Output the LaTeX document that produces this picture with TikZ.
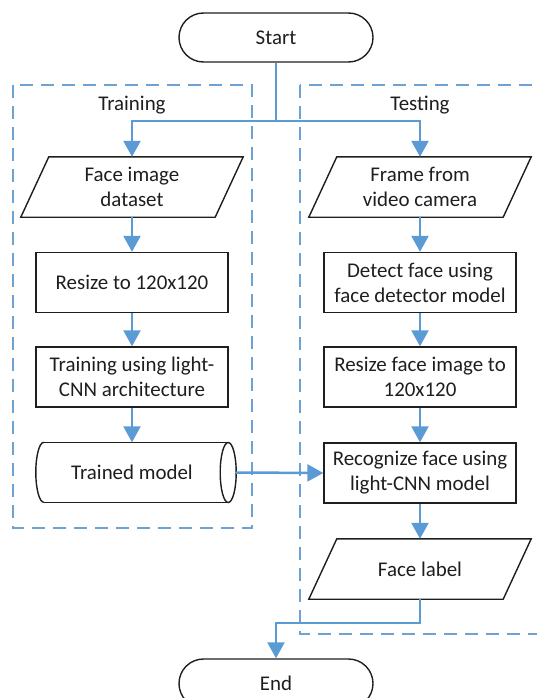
\documentclass[tikz,border=0pt]{standalone}
\usepackage{fontspec}
\setmainfont{Carlito}
\usetikzlibrary{shapes.misc,arrows.meta}
\definecolor{flowblue}{RGB}{91,155,213}
\definecolor{groupblue}{RGB}{110,162,210}
\definecolor{inkgray}{RGB}{30,30,30}

% parallelogram outline drawn around a text holder node
\newcommand\slantbox[1]{%
  \draw[outline] ([xshift=14bp]#1.north west) -- ([xshift=14bp]#1.north east)
    -- ([xshift=-14bp]#1.south east) -- ([xshift=-14bp]#1.south west) -- cycle;}

\begin{document}
\begin{tikzpicture}[x=1bp,y=-1bp,
  every node/.style={font=\fontsize{21}{25}\selectfont, text=inkgray, align=center, inner sep=0pt},
  outline/.style={draw=inkgray, line width=1.4bp},
  procbox/.style={outline, rectangle, minimum width=192bp, minimum height=60bp},
  holder/.style={rectangle, minimum width=194bp, minimum height=60bp},
  terminal/.style={outline, rounded rectangle, minimum width=194bp, minimum height=49bp},
  conn/.style={draw=flowblue, line width=2.5bp},
  arr/.style={conn, -{Triangle[width=17bp,length=16bp]}},
  groupbox/.style={draw=groupblue, line width=1.8bp, dash pattern=on 13bp off 8bp},
]
\useasboundingbox (0,0) rectangle (537,698);
\clip (0,0) rectangle (537,698);

% dashed group frames
\draw[groupbox] (13,85) rectangle (252,528);
\draw[groupbox] (300,85) rectangle (560,634);
\node (trainlbl) at (132,105) {Training};
\node (testlbl) at (420,105) {Testing};

% flowchart nodes
\node[terminal] (start) at (276,37.5) {Start};
\node[holder] (fid) at (132,187) {Face image\\dataset};
\node[holder] (cam) at (420,187) {Frame from\\video camera};
\node[procbox] (rsz) at (132,282.5) {Resize to 120x120};
\node[procbox] (det) at (420,282.5) {Detect face using\\face detector model};
\node[procbox] (trn) at (132,377) {Training using light-\\CNN architecture};
\node[procbox] (rszf) at (420,377) {Resize face image to\\120x120};
\node[holder, minimum width=192bp] (tm) at (132,472.5) {Trained model};
\node[procbox] (rec) at (420,473) {Recognize face using\\light-CNN model};
\node[holder] (flbl) at (420,569) {Face label};
\node[terminal] (end) at (276,683.5) {End};

\slantbox{fid}
\slantbox{cam}
\slantbox{flbl}

% stored model: horizontal cylinder
\draw[outline] ([xshift=8bp]tm.north west) -- (tm.north east);
\draw[outline] ([xshift=8bp]tm.south west) -- (tm.south east);
\draw[outline] ([xshift=8bp]tm.north west) arc[start angle=90, end angle=270, x radius=8bp, y radius=30bp];
\draw[outline] (tm.east) ellipse[x radius=8bp, y radius=30bp];

% connectors
\coordinate (split) at (276,121);
\coordinate (merge) at (276,623);
\draw[conn] (start.south) -- (split);
\draw[arr] (split) -| (fid.north);
\draw[arr] (split) -| (cam.north);
\draw[arr] (fid.south) -- (rsz.north);
\draw[arr] (rsz.south) -- (trn.north);
\draw[arr] (trn.south) -- (tm.north);
\draw[arr] (cam.south) -- (det.north);
\draw[arr] (det.south) -- (rszf.north);
\draw[arr] (rszf.south) -- (rec.north);
\draw[arr] ([xshift=8bp]tm.east) -- (rec.west);
\draw[arr] (rec.south) -- (flbl.north);
\draw[arr] (flbl.south) |- (merge) -- (end.north);
\end{tikzpicture}
\end{document}
